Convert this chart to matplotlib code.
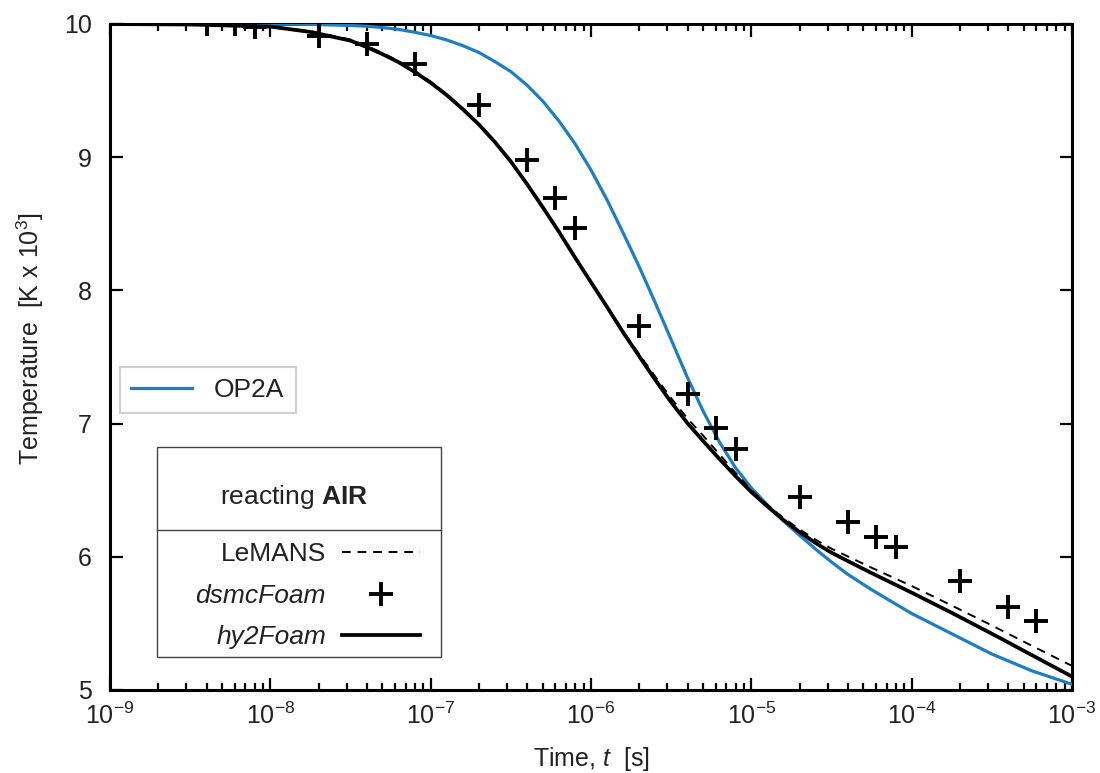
import matplotlib
matplotlib.use("Agg")
import matplotlib.pyplot as plt
from matplotlib.lines import Line2D
from matplotlib.patches import Rectangle
from matplotlib.ticker import LogLocator, LogFormatterSciNotation, NullFormatter

plt.rcParams['font.family'] = ['Liberation Sans', 'DejaVu Sans']
plt.rcParams['mathtext.fontset'] = 'custom'
plt.rcParams['mathtext.rm'] = 'Liberation Sans'
plt.rcParams['mathtext.it'] = 'Liberation Sans:italic'
plt.rcParams['mathtext.bf'] = 'Liberation Sans:bold'
plt.rcParams['axes.unicode_minus'] = False

# ---- data ----
t_curve = [1e-9, 3.16e-9, 1e-8, 1.78e-8, 3.16e-8, 3.98e-8, 5.01e-8, 6.31e-8, 7.94e-8,
           1e-7, 1.26e-7, 1.58e-7, 2.0e-7, 2.51e-7, 3.16e-7, 3.98e-7, 5.01e-7, 6.31e-7, 7.94e-7,
           1e-6, 1.26e-6, 1.58e-6, 2.0e-6, 2.51e-6, 3.16e-6, 3.98e-6, 5.01e-6, 6.31e-6, 7.94e-6,
           1e-5, 1.26e-5, 1.58e-5, 2.0e-5, 2.51e-5, 3.16e-5, 3.98e-5, 5.62e-5,
           1e-4, 1.78e-4, 3.16e-4, 5.62e-4, 1e-3]
T_hy2foam = [10.000, 9.996, 9.980, 9.940, 9.875, 9.827, 9.773, 9.713, 9.640,
             9.559, 9.466, 9.362, 9.245, 9.115, 8.968, 8.800, 8.623, 8.440, 8.248,
             8.061, 7.875, 7.688, 7.505, 7.330, 7.161, 7.006, 6.869, 6.736, 6.608,
             6.486, 6.378, 6.278, 6.186, 6.104, 6.031, 5.969, 5.878,
             5.731, 5.579, 5.423, 5.262, 5.101]
T_lemans = [10.000, 9.996, 9.982, 9.946, 9.883, 9.836, 9.782, 9.722, 9.649,
            9.567, 9.473, 9.368, 9.250, 9.118, 8.970, 8.802, 8.625, 8.441, 8.249,
            8.062, 7.876, 7.693, 7.520, 7.355, 7.191, 7.041, 6.909, 6.771, 6.633,
            6.501, 6.390, 6.293, 6.206, 6.129, 6.061, 6.004, 5.918,
            5.781, 5.634, 5.485, 5.332, 5.181]
T_op2a = [10.000, 10.000, 9.999, 9.997, 9.989, 9.983, 9.973, 9.959, 9.938,
          9.913, 9.880, 9.838, 9.786, 9.718, 9.643, 9.542, 9.420, 9.272, 9.102,
          8.904, 8.679, 8.436, 8.177, 7.910, 7.631, 7.350, 7.093, 6.864, 6.671,
          6.517, 6.389, 6.271, 6.161, 6.059, 5.961, 5.870, 5.753,
          5.574, 5.422, 5.270, 5.144, 5.043]
t_dsmc = [4e-9, 6e-9, 8e-9, 2e-8, 4e-8, 8e-8, 2e-7, 4e-7, 6e-7, 8e-7, 2e-6, 4e-6,
          6e-6, 8e-6, 2e-5, 4e-5, 6e-5, 8e-5, 2e-4, 4e-4, 6e-4]
T_dsmc = [10.0, 10.0, 9.98, 9.91, 9.85, 9.70, 9.39, 8.98, 8.69, 8.47, 7.73, 7.22,
          6.97, 6.81, 6.45, 6.26, 6.15, 6.07, 5.82, 5.62, 5.52]

x_ticks = [1e-9, 1e-8, 1e-7, 1e-6, 1e-5, 1e-4, 1e-3]
y_ticks = [5, 6, 7, 8, 9, 10]

BLUE = '#1f7dc1'
TXT = '#222222'
FS = 18
LFS = 19

fig = plt.figure(figsize=(11, 7.73), dpi=100)
ax = fig.add_axes([0.1, 0.1074, 0.8745, 0.8616])

op2a, = ax.plot(t_curve, T_op2a, color=BLUE, lw=2.3, label='OP2A', zorder=3)
lemans, = ax.plot(t_curve, T_lemans, color='black', lw=1.4, ls=(0, (4.5, 3.5)),
                  label='LeMANS', zorder=4)
hy2, = ax.plot(t_curve, T_hy2foam, color='black', lw=2.7, label='hy2Foam', zorder=4)
dsmc, = ax.plot(t_dsmc, T_dsmc, ls='none', marker='+', ms=17, mew=2.8, color='black',
                label='dsmcFoam', zorder=5)

ax.set_xscale('log')
ax.set_xlim(1e-9, 1e-3)
ax.set_ylim(5, 10)
ax.set_yticks(y_ticks)
ax.set_xticks(x_ticks)
ax.xaxis.set_major_formatter(LogFormatterSciNotation())
ax.xaxis.set_minor_locator(LogLocator(base=10, subs=(2, 3, 4, 5, 6, 7, 8, 9), numticks=20))
ax.xaxis.set_minor_formatter(NullFormatter())

for s in ax.spines.values():
    s.set_linewidth(2.2)
ax.tick_params(which='major', direction='in', length=9, width=1.6, top=True, right=True,
               labelsize=FS, colors='black', labelcolor=TXT)
ax.tick_params(which='minor', direction='in', length=5, width=1.6, top=True, right=True)
ax.tick_params(axis='y', which='major', pad=13)
ax.tick_params(axis='x', which='major', pad=9)
ax.tick_params(axis='y', which='minor', left=False, right=False)

ax.set_xlabel(r'Time, $\it{t}$  [s]', fontsize=FS, color=TXT)
ax.xaxis.set_label_coords(0.5005, -0.082)
ax.set_ylabel(r'Temperature  [K x 10$^{3}$]', fontsize=FS, color=TXT)
ax.yaxis.set_label_coords(-0.067, 0.528)

# legend 1: OP2A
leg1 = ax.legend(handles=[op2a], loc='upper left', bbox_to_anchor=(0.0104, 0.4845),
                 borderaxespad=0, fontsize=LFS, handlelength=2.3, handletextpad=0.85,
                 fancybox=False, edgecolor='#d0d0d0', framealpha=1, borderpad=0.42)
leg1.get_frame().set_linewidth(1.5)
for tx in leg1.get_texts():
    tx.set_color(TXT)
ax.add_artist(leg1)

# legend 2 box, title and entries
bx0, by0, bw, bh = 0.0489, 0.0495, 0.2952, 0.3155
ax.add_patch(Rectangle((bx0, by0), bw, bh, transform=ax.transAxes, fill=False,
                       edgecolor='#444444', lw=1.0, zorder=6))
ax.add_line(Line2D([bx0, bx0 + bw], [0.240, 0.240], transform=ax.transAxes,
                   color='#444444', lw=1.0, zorder=6))
ax.text(0.191, 0.290, r'reacting $\mathbf{AIR}$', transform=ax.transAxes,
        ha='center', va='center', fontsize=LFS, color=TXT, zorder=7)

leg2 = ax.legend(handles=[lemans, dsmc, hy2], loc='upper right',
                 bbox_to_anchor=(0.322, 0.222), borderaxespad=0, borderpad=0,
                 frameon=False, markerfirst=False, fontsize=LFS, handlelength=2.95,
                 handletextpad=0.6, labelspacing=0.67, numpoints=1)
for i, tx in enumerate(leg2.get_texts()):
    tx.set_color(TXT)
    if i > 0:
        tx.set_style('italic')

fig.savefig('out.png', dpi=100, facecolor='white')
